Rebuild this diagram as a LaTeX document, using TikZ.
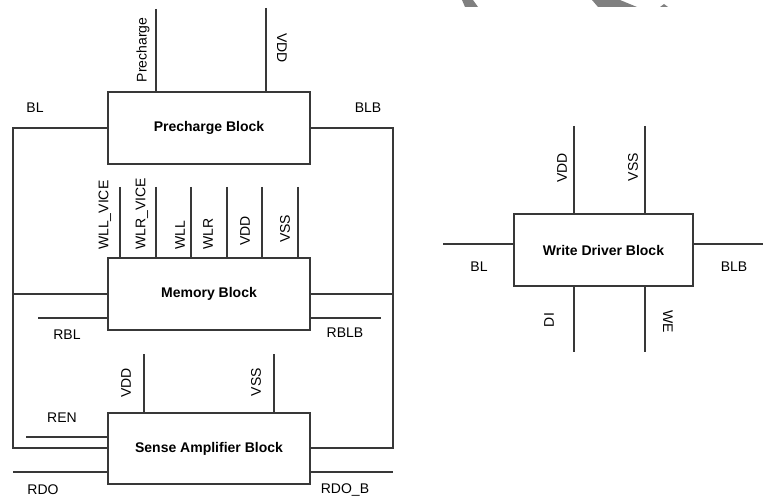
\documentclass[tikz,border=0pt]{standalone}
\usepackage{fontspec}
\setmainfont{Liberation Sans}
\begin{document}
\begin{tikzpicture}[x=1pt,y=-1pt,
  wire/.style={draw=black!78, line width=1.2pt},
  block/.style={draw=black!78, line width=1.2pt, rectangle, inner sep=0pt, font=\fontsize{14}{16}\selectfont\bfseries},
  lbl/.style={inner sep=0pt, font=\fontsize{14}{16}\selectfont},
  lblup/.style={lbl, rotate=90},
  lbldown/.style={lbl, rotate=-90},
  mark/.style={fill=black!50, draw=none}]
\useasboundingbox (0,0) rectangle (763,497);
% gray fragments at the top edge
\fill[black!50] (462,0) -- (473,0) -- (478,7) -- (465,7) -- cycle;
\fill[black!50] (592,0) -- (620,0) -- (637,7) -- (598,7) -- cycle;
\fill[black!50] (664,4) -- (668,7) -- (660,7) -- cycle;

% blocks
\node[block, minimum width=202pt, minimum height=72pt] (pc) at (209,128) {Precharge Block};
\node[block, minimum width=202pt, minimum height=72pt] (mem) at (209,294) {Memory Block};
\node[block, minimum width=202pt, minimum height=71pt] (sa) at (209,448.5) {Sense Amplifier Block};
\node[block, minimum width=179pt, minimum height=72pt] (wd) at (603.5,250) {Write Driver Block};

% coordinates for free ends
\coordinate (pcP) at (156,9);
\coordinate (pcV) at (266,8);
\coordinate (blA) at (13,128);
\coordinate (blB) at (13,448);
\coordinate (blbA) at (393,128);
\coordinate (blbB) at (393,448);
\coordinate (mblL) at (13,294);
\coordinate (mblR) at (393,294);
\coordinate (rbl) at (38,318);
\coordinate (rblb) at (381,318);
\coordinate (ren) at (26,437);
\coordinate (rdo) at (13,472);
\coordinate (rdob) at (393,472);
\coordinate (saV) at (144,354);
\coordinate (saS) at (274,354);
\coordinate (wdV) at (574,126);
\coordinate (wdS) at (645,126);
\coordinate (wdBL) at (443,244);
\coordinate (wdBLB) at (763,244);
\coordinate (wdDI) at (574,352);
\coordinate (wdWE) at (645,352);

% precharge pins
\draw[wire] (pcP) -- (pc.north -| pcP);
\draw[wire] (pcV) -- (pc.north -| pcV);
% bit lines
\draw[wire] (pc.west) -- (blA) -- (blB) -- (sa.west |- blB);
\draw[wire] (pc.east) -- (blbA) -- (blbB) -- (sa.east |- blbB);
\draw[wire] (mem.west) -- (mblL);
\draw[wire] (mem.east) -- (mblR);
\draw[wire] (rbl) -- (mem.west |- rbl);
\draw[wire] (mem.east |- rblb) -- (rblb);
% memory pins
\foreach \n/\x in {a/120,b/156,c/191,d/227,e/262,f/298}{
  \coordinate (mp\n) at (\x,187);
  \draw[wire] (mp\n) -- (mem.north -| mp\n);
}
% sense amp
\draw[wire] (saV) -- (sa.north -| saV);
\draw[wire] (saS) -- (sa.north -| saS);
\draw[wire] (ren) -- (sa.west |- ren);
\draw[wire] (rdo) -- (sa.west |- rdo);
\draw[wire] (sa.east |- rdob) -- (rdob);
% write driver
\draw[wire] (wdV) -- (wd.north -| wdV);
\draw[wire] (wdS) -- (wd.north -| wdS);
\draw[wire] (wdBL) -- (wd.west |- wdBL);
\draw[wire] (wd.east |- wdBLB) -- (wdBLB);
\draw[wire] (wd.south -| wdDI) -- (wdDI);
\draw[wire] (wd.south -| wdWE) -- (wdWE);

% labels
\node[lblup] (lPre) at (143,50) {Precharge};
\node[lbldown] (lPcV) at (282,48) {VDD};
\node[lbl] (lBL) at (35,108) {BL};
\node[lbl] (lBLB) at (368,108) {BLB};
\node[lblup, anchor=west] (l1) at (105,250) {WLL\_VICE};
\node[lblup, anchor=west] (l2) at (142,250) {WLR\_VICE};
\node[lblup, anchor=west] (l3) at (180,250) {WLL};
\node[lblup, anchor=west] (l4) at (208,250) {WLR};
\node[lblup, anchor=west] (l5) at (245,246) {VDD};
\node[lblup, anchor=west] (l6) at (285,243) {VSS};
\node[lbl] (lRBL) at (67,335) {RBL};
\node[lbl] (lRBLB) at (345,333) {RBLB};
\node[lblup] (lSaV) at (126,383) {VDD};
\node[lblup] (lSaS) at (256,382) {VSS};
\node[lbl] (lREN) at (62,418) {REN};
\node[lbl] (lRDO) at (43,490) {RDO};
\node[lbl] (lRDOB) at (345,490) {RDO\_B};
\node[lblup] (lWdV) at (562,168) {VDD};
\node[lblup] (lWdS) at (633,167) {VSS};
\node[lbl] (lWdBL) at (479,267) {BL};
\node[lbl] (lWdBLB) at (734,267) {BLB};
\node[lblup] (lDI) at (549,320) {DI};
\node[lbldown] (lWE) at (668,322) {WE};
\end{tikzpicture}
\end{document}
